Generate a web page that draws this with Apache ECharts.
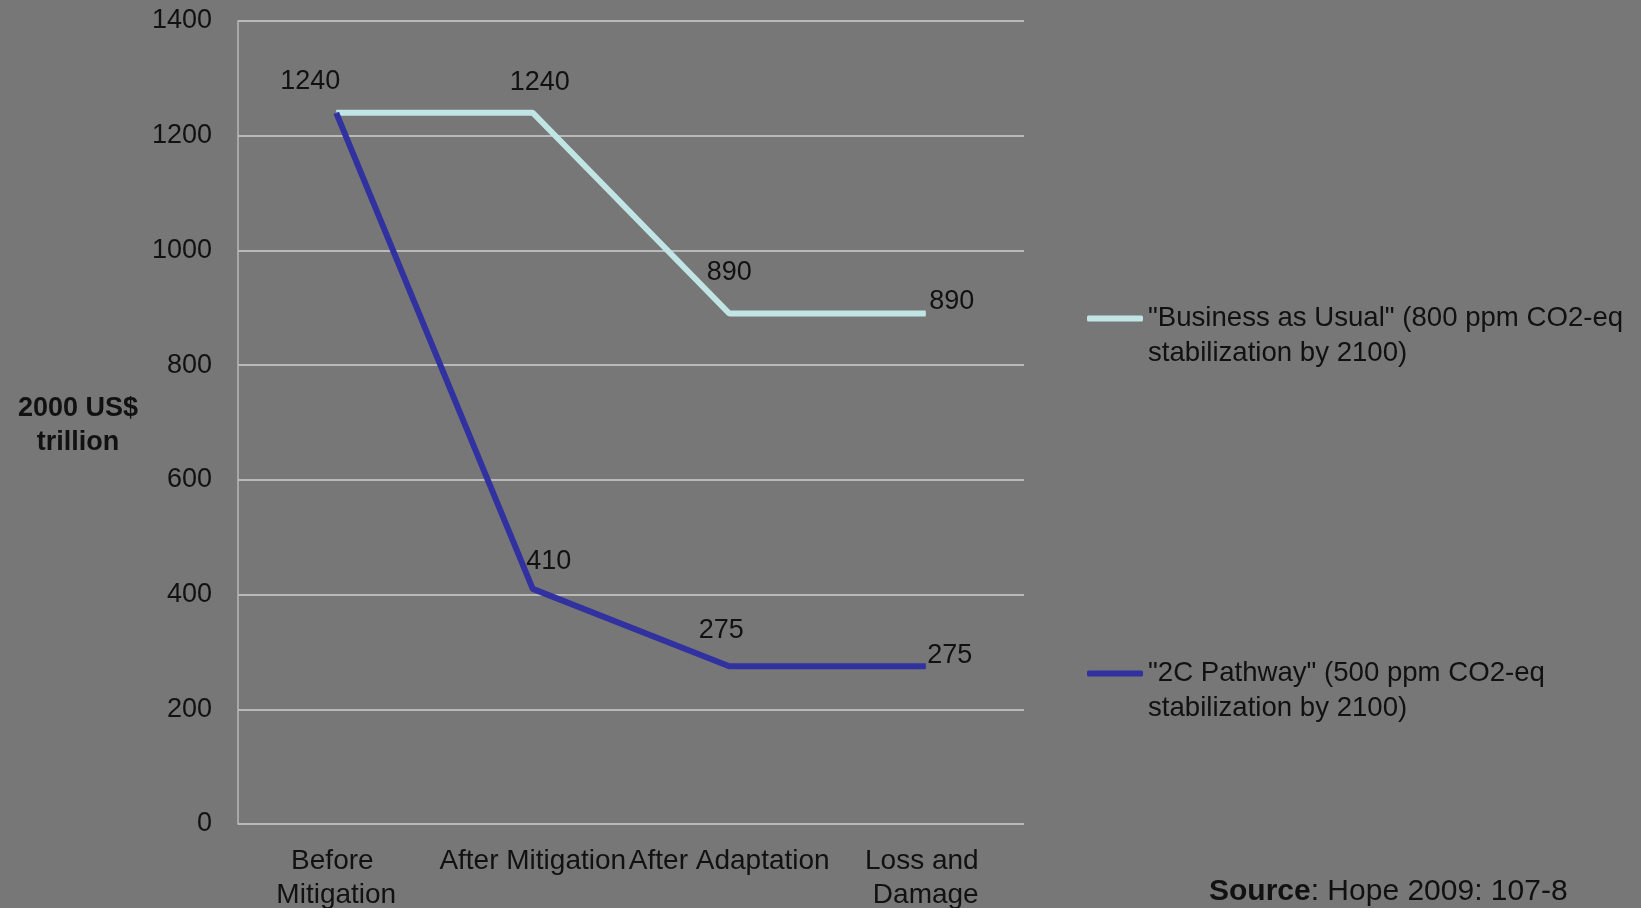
<!DOCTYPE html>
<html>
<head>
<meta charset="utf-8">
<script src="https://cdn.jsdelivr.net/npm/echarts@6/dist/echarts.min.js"></script>
<style>
  html, body { margin: 0; padding: 0; background: #777777; }
  #main { width: 1641px; height: 908px; }
</style>
</head>
<body>
<div id="main"></div>
<script>
let categories = ['Before Mitigation', 'After Mitigation', 'After Adaptation', 'Loss and Damage'];
let seriesNames = ['"Business as Usual" (800 ppm CO2-eq stabilization by 2100)', '"2C Pathway" (500 ppm CO2-eq stabilization by 2100)'];
let bauValues = [1240, 1240, 890, 890];
let pathwayValues = [1240, 410, 275, 275];
let yTicks = [0, 200, 400, 600, 800, 1000, 1200, 1400];

// label nudges, as placed by hand in the original (null = no label)
let bauLabelShift = [[-26, -31], [7, -30], [0, -41], [26, -12]];
let pathwayLabelShift = [null, [16, -27], [-8, -36], [24, -11]];

const FONT = '"Liberation Sans", Arial, sans-serif';

function buildData(values, shifts) {
  return values.map(function (v, i) {
    let s = shifts[i];
    if (!s) return { value: v, label: { show: false } };
    return { value: v, label: { offset: s } };
  });
}

function createChart() {
  let myChart = echarts.init(document.getElementById('main'));
  let lineSeries = function (name, values, shifts, color) {
    return {
      name: name,
      type: 'line',
      data: buildData(values, shifts),
      symbol: 'circle',
      symbolSize: 1,
      itemStyle: { color: color },
      lineStyle: { color: color, width: 6 },
      label: {
        show: true,
        position: 'inside',
        color: '#111',
        fontSize: 27,
        fontFamily: FONT
      },
      emphasis: { disabled: true },
      animation: false
    };
  };
  let legendBase = {
    orient: 'vertical',
    left: 1087,
    padding: 0,
    itemWidth: 56,
    itemHeight: 6,
    icon: 'roundRect',
    itemStyle: { borderWidth: 0 },
    // blank first line so the icon sits next to the first text line
    formatter: function (name) {
      return '\n' + name.replace(' stabilization', '\nstabilization');
    },
    textStyle: {
      color: '#111',
      fontSize: 27.6,
      lineHeight: 35,
      fontFamily: FONT
    }
  };
  let option = {
    backgroundColor: '#777777',
    textStyle: { fontFamily: FONT },
    grid: { left: 238, right: 617, top: 21, bottom: 84, outerBoundsMode: 'none', containLabel: false },
    legend: [
      Object.assign({}, legendBase, { data: [seriesNames[0]], top: 266 }),
      Object.assign({}, legendBase, { data: [seriesNames[1]], top: 621 })
    ],
    xAxis: {
      type: 'category',
      data: categories,
      boundaryGap: true,
      axisLine: { show: false },
      axisTick: { show: false },
      axisLabel: {
        interval: 0,
        margin: 20,
        color: '#111',
        fontSize: 28,
        lineHeight: 34,
        fontFamily: FONT,
        width: 204,
        overflow: 'break'
      }
    },
    yAxis: {
      type: 'value',
      min: yTicks[0],
      max: yTicks[yTicks.length - 1],
      interval: yTicks[1] - yTicks[0],
      axisLine: { show: true, lineStyle: { color: '#b8b8b8', width: 1.5 } },
      axisTick: { show: false },
      axisLabel: {
        margin: 26,
        color: '#111',
        fontSize: 27,
        fontFamily: FONT,
        formatter: function (v) { return String(v); }
      },
      splitLine: { lineStyle: { color: '#cfcfcf', width: 1.5 } }
    },
    graphic: [
      {
        type: 'text',
        x: 78,
        y: 426,
        style: {
          text: '2000 US$\ntrillion',
          fill: '#111',
          font: 'bold 27px ' + FONT,
          lineHeight: 34,
          align: 'center',
          verticalAlign: 'middle'
        }
      },
      {
        type: 'text',
        x: 1209,
        y: 892,
        style: {
          text: '{b|Source}: Hope 2009: 107-8',
          fill: '#111',
          font: '30px ' + FONT,
          verticalAlign: 'middle',
          rich: { b: { fontWeight: 'bold', fontSize: 30, fontFamily: FONT, fill: '#111' } }
        }
      }
    ],
    series: [
      lineSeries(seriesNames[0], bauValues, bauLabelShift, '#c1e5e5'),
      lineSeries(seriesNames[1], pathwayValues, pathwayLabelShift, '#3131a0')
    ]
  };
  myChart.setOption(option);
}

createChart();
</script>
</body>
</html>
